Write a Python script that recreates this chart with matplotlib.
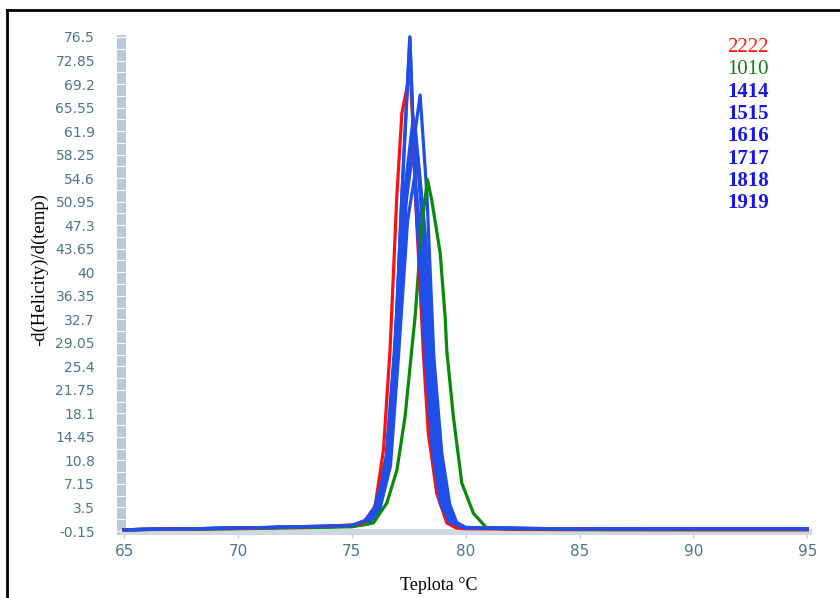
import numpy as np
import matplotlib
matplotlib.use("Agg")
import matplotlib.pyplot as plt
from matplotlib.lines import Line2D
from matplotlib.patches import Rectangle
import matplotlib.transforms as mtransforms

# melting-curve derivative data
temp_2222 = [65, 70, 74, 75, 75.5, 76.02, 76.39, 76.68, 76.98, 77.2, 77.56,
             77.7, 77.78, 78.15, 78.36, 78.73, 79.17, 79.6, 80, 85, 90, 95]
val_2222 = [0.05, 0.25, 0.6, 0.8, 1.1, 3.6, 12.4, 28, 52, 64.7, 71.1,
            62, 52.8, 27, 15, 5.7, 1.1, 0.3, 0.2, 0.1, 0.05, 0.05]

temp_1010 = [65, 70, 75, 75.95, 76.54, 76.98, 77.34, 77.63, 77.78, 78.07, 78.32,
             78.51, 78.88, 79.1, 79.17, 79.46, 79.83, 80.34, 80.93, 82, 85, 90, 95]
val_1010 = [0.05, 0.2, 0.5, 1.1, 4.2, 9.3, 17.6, 27.9, 33.1, 47, 54.4,
            51.2, 43, 33, 27.9, 17.6, 7.3, 2.6, 0.3, 0.1, 0.05, 0.05, 0.05]

temp_1414 = [65, 70, 75, 75.6, 76.0, 76.5, 76.9, 77.2, 77.55, 77.8, 78.2,
             78.55, 78.9, 79.3, 80, 85, 90, 95]
val_1414 = [0.05, 0.3, 0.7, 1.5, 3.5, 10, 28, 52, 76.5, 52, 28,
            12, 4, 1.2, 0.3, 0.15, 0.15, 0.15]

temp_1515 = [65, 70, 75, 75.6, 76.1, 76.6, 77.0, 77.4, 78.0, 78.3, 78.6,
             78.95, 79.3, 79.6, 80, 85, 90, 95]
val_1515 = [0.05, 0.3, 0.6, 1.0, 3, 10, 27, 52, 67.5, 52, 27,
            12, 4, 1.2, 0.4, 0.15, 0.15, 0.15]

temp_1616 = [65, 70, 75, 75.6, 76.0, 76.5, 76.85, 77.3, 77.7, 78.05, 78.35,
             78.7, 79.0, 79.4, 80, 85, 90, 95]
val_1616 = [0.05, 0.3, 0.6, 1.2, 3.2, 11, 27, 52, 64, 50, 27,
            12, 4, 1.0, 0.3, 0.15, 0.15, 0.15]

temp_1717 = [65, 70, 75, 75.6, 76.1, 76.6, 76.95, 77.35, 77.8, 78.15, 78.45,
             78.8, 79.1, 79.5, 80, 85, 90, 95]
val_1717 = [0.05, 0.3, 0.6, 1.0, 3, 11, 27, 50, 62, 48, 27,
            12, 4, 1.0, 0.3, 0.15, 0.15, 0.15]

temp_1818 = [65, 70, 75, 75.6, 76.05, 76.55, 76.9, 77.25, 77.65, 78.0, 78.3,
             78.65, 79.0, 79.4, 80, 85, 90, 95]
val_1818 = [0.05, 0.3, 0.6, 1.3, 3.5, 12, 28, 48, 60, 46, 27,
            11, 3.5, 0.8, 0.3, 0.15, 0.15, 0.15]

temp_1919 = [65, 70, 75, 75.7, 76.2, 76.7, 77.05, 77.45, 77.9, 78.25, 78.55,
             78.9, 79.2, 79.6, 80, 85, 90, 95]
val_1919 = [0.05, 0.3, 0.6, 0.9, 2.8, 10, 27, 48, 58, 45, 27,
            12, 4, 1.0, 0.4, 0.15, 0.15, 0.15]

names = ["2222", "1010", "1414", "1515", "1616", "1717", "1818", "1919"]
temps = [temp_2222, temp_1010, temp_1414, temp_1515,
         temp_1616, temp_1717, temp_1818, temp_1919]
vals = [val_2222, val_1010, val_1414, val_1515,
        val_1616, val_1717, val_1818, val_1919]

y_ticks = [-0.15, 3.5, 7.15, 10.8, 14.45, 18.1, 21.75, 25.4, 29.05, 32.7,
           36.35, 40, 43.65, 47.3, 50.95, 54.6, 58.25, 61.9, 65.55, 69.2,
           72.85, 76.5]
y_tick_labels = ["-0.15", "3.5", "7.15", "10.8", "14.45", "18.1", "21.75",
                 "25.4", "29.05", "32.7", "36.35", "40", "43.65", "47.3",
                 "50.95", "54.6", "58.25", "61.9", "65.55", "69.2", "72.85",
                 "76.5"]
x_ticks = [65, 70, 75, 80, 85, 90, 95]

line_colors = ["#ff1010", "#0a8a0a"] + ["#1f4fe8"] * 6
text_colors = ["#ff1a1a", "#117a11"] + ["#1515ee"] * 6


def main():
    fig = plt.figure(figsize=(8.4, 5.98), dpi=100)
    ax = fig.add_axes([120 / 840, 63 / 598, 692 / 840, 500 / 598])

    # blue first, then green and red
    order = [2, 3, 4, 5, 6, 7, 1, 0]
    for i in order:
        ax.plot(temps[i], vals[i], color=line_colors[i], lw=2.3,
                solid_joinstyle="round", zorder=3)
    # the tallest blue curve sits on top
    ax.plot(temps[2], vals[2], color=line_colors[2], lw=2.3, zorder=4)

    ax.set_xlim(64.82, 95.21)
    ax.set_ylim(-0.77, 76.81)

    for s in ax.spines.values():
        s.set_visible(False)

    ax.set_yticks(y_ticks)
    ax.set_yticklabels(y_tick_labels)
    ax.set_xticks(x_ticks)
    ax.tick_params(axis="y", length=0, pad=18, labelsize=10,
                   labelcolor="#4f7684")
    ax.tick_params(axis="x", length=5, width=1, color="#c4ccd4",
                   direction="inout", pad=4, labelsize=11,
                   labelcolor="#4f7684")

    # ruler-like bar on the left
    bar = Rectangle((-3 / 692, 0), 9 / 692, 1, transform=ax.transAxes,
                    facecolor="#b9c9d9", edgecolor="none", clip_on=False,
                    zorder=2)
    ax.add_patch(bar)
    trans = mtransforms.blended_transform_factory(ax.transAxes, ax.transData)
    step = 3.65 / 2
    y = -0.15
    while y < 76.9:
        ax.plot([-3 / 692, 6 / 692], [y, y], color="white", lw=0.9,
                transform=trans, clip_on=False, zorder=2.5)
        y += step

    # bottom axis bar
    base = Rectangle((0, 0), 1, 6 / 500, transform=ax.transAxes,
                     facecolor="#cfd7df", edgecolor="none", clip_on=False,
                     zorder=2)
    ax.add_patch(base)

    ax.set_ylabel("-d(Helicity)/d(temp)", family="Liberation Serif",
                  fontsize=13.5, color="black")
    ax.yaxis.set_label_coords(-72 / 692, 0.53)
    ax.set_xlabel("Teplota \u00b0C", family="Liberation Serif",
                  fontsize=13, color="black")
    ax.xaxis.set_label_coords(319 / 692, -42 / 500)

    # legend as coloured text
    for i, name in enumerate(names):
        weight = "bold" if i >= 2 else "normal"
        fig.text(727 / 840, 1 - (47 + 22.3 * i) / 598, name,
                 family="Liberation Serif", fontsize=15, color=text_colors[i],
                 fontweight=weight, ha="left", va="center")

    # screenshot border
    fig.add_artist(Line2D([7 / 840, 7 / 840], [0, 1 - 10 / 598],
                          color="black", lw=2, transform=fig.transFigure))
    fig.add_artist(Line2D([7 / 840, 1], [1 - 10 / 598, 1 - 10 / 598],
                          color="black", lw=2, transform=fig.transFigure))

    fig.savefig("out.png", dpi=100)
    plt.close(fig)


if __name__ == "__main__":
    main()
